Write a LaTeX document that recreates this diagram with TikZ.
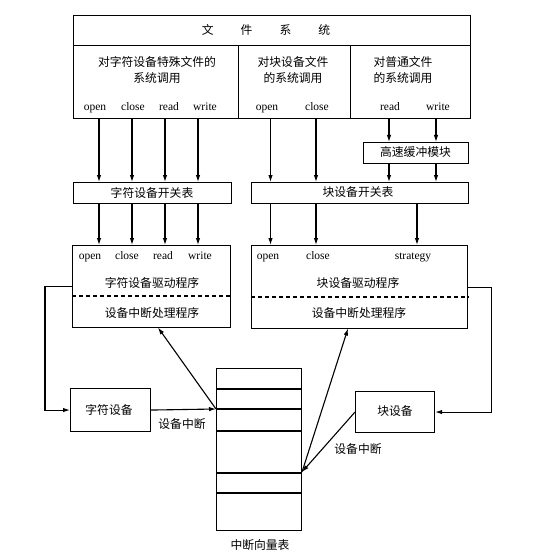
\documentclass[tikz,border=0pt]{standalone}
\usepackage{fontspec}
\setmainfont{Liberation Serif}
\newfontfamily\cjk{Noto Sans CJK SC}
\usetikzlibrary{arrows.meta}
\begin{document}
\begin{tikzpicture}[x=1pt,y=-1pt,
  box/.style={draw, line width=1.1pt, inner sep=0pt, anchor=north west},
  arr/.style={-{Latex[length=7pt,width=4.5pt]}, line width=1.1pt},
  ln/.style={line width=1.1pt},
  lab/.style={inner sep=0pt, anchor=base, font=\fontsize{11.5}{13}\selectfont},
  zh/.style={inner sep=0pt, font=\cjk\fontsize{11.8}{14}\selectfont}]
\useasboundingbox (0,0) rectangle (554,556);
\fill[white] (0,0) rectangle (554,556);

% ---- file system box ----
\node[box, minimum width=397pt, minimum height=30pt] (fs) at (73,15) {};
\node[box, minimum width=165pt, minimum height=73pt] (c1) at (73,45) {};
\node[box, minimum width=112pt, minimum height=73pt] (c2) at (238,45) {};
\node[box, minimum width=120pt, minimum height=73pt] (c3) at (350,45) {};
\node[zh] (title) at (266,30) {文\hspace{27pt}件\hspace{27pt}系\hspace{27pt}统};

\node[zh] (c1a) at (157,62) {对字符设备特殊文件的};
\node[zh] (c1b) at (157,78) {系统调用};
\node[lab] (c1o) at (95,110.5) {open};
\node[lab] (c1c) at (133,110.5) {close};
\node[lab] (c1r) at (169,110.5) {read};
\node[lab] (c1w) at (205,110.5) {write};

\node[zh] (c2a) at (293,62) {对块设备文件};
\node[zh] (c2b) at (293,78) {的系统调用};
\node[lab] (c2o) at (267,110.5) {open};
\node[lab] (c2c) at (317,110.5) {close};

\node[zh] (c3a) at (403,62) {对普通文件};
\node[zh] (c3b) at (403,78) {的系统调用};
\node[lab] (c3r) at (390,110.5) {read};
\node[lab] (c3w) at (438,110.5) {write};

% ---- switch tables and buffer ----
\node[box, minimum width=158pt, minimum height=21pt] (ctab) at (73,182) {};
\node[zh] (ctabt) at (152,192.5) {字符设备开关表};
\node[box, minimum width=217pt, minimum height=21pt] (btab) at (251,182) {};
\node[zh] (btabt) at (358,192.5) {块设备开关表};
\node[box, minimum width=105pt, minimum height=21pt] (buf) at (363,142) {};
\node[zh] (buft) at (415.5,152.5) {高速缓冲模块};

% ---- drivers ----
\node[box, minimum width=158pt, minimum height=82pt] (cdrv) at (72,245) {};
\node[box, minimum width=216pt, minimum height=83pt] (bdrv) at (251,245) {};
\draw[ln, dash pattern=on 4pt off 3pt] (cdrv.west |- 0,296) -- (cdrv.east |- 0,296);
\draw[ln, dash pattern=on 4pt off 3pt] (bdrv.west |- 0,297) -- (bdrv.east |- 0,297);

\node[lab] (dco) at (90,259.5) {open};
\node[lab] (dcc) at (127,259.5) {close};
\node[lab] (dcr) at (163,259.5) {read};
\node[lab] (dcw) at (200,259.5) {write};
\node[zh] (dct) at (152,283) {字符设备驱动程序};
\node[zh] (dci) at (152,313) {设备中断处理程序};

\node[lab] (dbo) at (268,259.5) {open};
\node[lab] (dbc) at (318,259.5) {close};
\node[lab] (dbs) at (413,259.5) {strategy};
\node[zh] (dbt) at (358,283) {块设备驱动程序};
\node[zh] (dbi) at (359,313) {设备中断处理程序};

% ---- devices ----
\node[box, minimum width=80pt, minimum height=43pt] (cdev) at (70,388) {};
\node[zh] (cdevt) at (109,409.5) {字符设备};
\node[box, minimum width=79pt, minimum height=41pt] (bdev) at (355,391) {};
\node[zh] (bdevt) at (395,411.5) {块设备};

% ---- interrupt vector table ----
\node[box, minimum width=85pt, minimum height=162pt] (vt) at (216,368) {};
\foreach \yy in {389,409,431,473,493}
  \draw[ln] (216,\yy) -- (301,\yy);
\node[zh] (vtt) at (260,545) {中断向量表};

% ---- column coordinates ----
\coordinate (ka) at (99,0);
\coordinate (kb) at (132,0);
\coordinate (kc) at (165,0);
\coordinate (kd) at (198,0);
\coordinate (ba) at (270.5,0);
\coordinate (bb) at (316,0);
\coordinate (bs) at (417,0);
\coordinate (ra) at (389,0);
\coordinate (rb) at (436,0);

% ---- arrows: file system -> tables ----
\foreach \k in {ka,kb,kc,kd}{
  \draw[arr] (c1.south -| \k) -- (ctab.north -| \k);
  \draw[arr] (ctab.south -| \k) -- (cdrv.north -| \k);
}
\foreach \k in {ba,bb}{
  \draw[arr] (c2.south -| \k) -- (btab.north -| \k);
}
\foreach \k in {ba,bb,bs}{
  \draw[arr] (btab.south -| \k) -- (bdrv.north -| \k);
}
\foreach \k in {ra,rb}{
  \draw[arr] (c3.south -| \k) -- (buf.north -| \k);
  \draw[arr] (buf.south -| \k) -- (btab.north -| \k);
}

% ---- driver -> device ----
\draw[arr] (cdrv.west) -- ++(-27,0) |- (cdev.west);
\draw[arr] (bdrv.east) -- ++(23,0) |- (bdev.east);

% ---- interrupts ----
\coordinate (ci) at (216,409);
\coordinate (ct) at (158,327.5);
\coordinate (bi) at (302,472);
\coordinate (bt) at (348,328.5);
\draw[arr] (cdev.east) -- (ci);
\draw[arr] (ci) -- (ct);
\draw[arr] (bdev.west) -- (bi);
\draw[arr] (bi) -- (bt);
\node[zh] (cil) at (182,424) {设备中断};
\node[zh] (bil) at (358,449) {设备中断};
\end{tikzpicture}
\end{document}
